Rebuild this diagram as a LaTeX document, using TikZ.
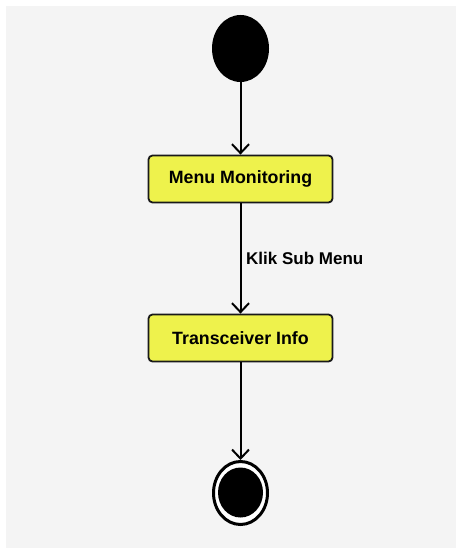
\documentclass[tikz,border=0pt]{standalone}
\usepackage{fontspec}
\setmainfont{Liberation Sans}
\usetikzlibrary{arrows.meta,shapes.geometric}
\definecolor{bg}{HTML}{F4F4F4}
\definecolor{boxfill}{HTML}{EEF24C}
\tikzset{
  actbox/.style={draw=black!90, line width=1.8pt, fill=boxfill, rounded corners=4pt,
    minimum width=184pt, minimum height=47pt, inner sep=0pt,
    font=\fontsize{17.8}{20}\selectfont\bfseries},
  flow/.style={draw=black, line width=2pt, -{Straight Barb[length=9pt,width=17pt,line width=2pt]}},
  lbl/.style={font=\fontsize{17}{20}\selectfont\bfseries, anchor=west, inner sep=0pt}
}
\begin{document}
\begin{tikzpicture}[x=1pt,y=-1pt]
\useasboundingbox (0,0) rectangle (456,548);
\fill[bg] (6,6) rectangle (456,548);
\node[ellipse, fill=black, minimum width=57pt, minimum height=67pt, inner sep=0pt] (start) at (240.5,48.5) {};
\node[actbox] (mm) at (240.5,179) {Menu Monitoring};
\node[actbox] (ti) at (240.5,338) {Transceiver Info};
\node[ellipse, draw=black, line width=3pt, fill=white, minimum width=54pt, minimum height=63pt, inner sep=0pt] (end) at (240.5,493) {};
\node[ellipse, fill=black, minimum width=45pt, minimum height=50pt, inner sep=0pt] (endin) at (240.5,492.5) {};
\draw[flow] (start) -- (mm);
\draw[flow] (mm) -- (ti);
\node[lbl] (klik) at (246,258.5) {Klik Sub Menu};
\draw[flow] (ti) -- (end);
\end{tikzpicture}
\end{document}
